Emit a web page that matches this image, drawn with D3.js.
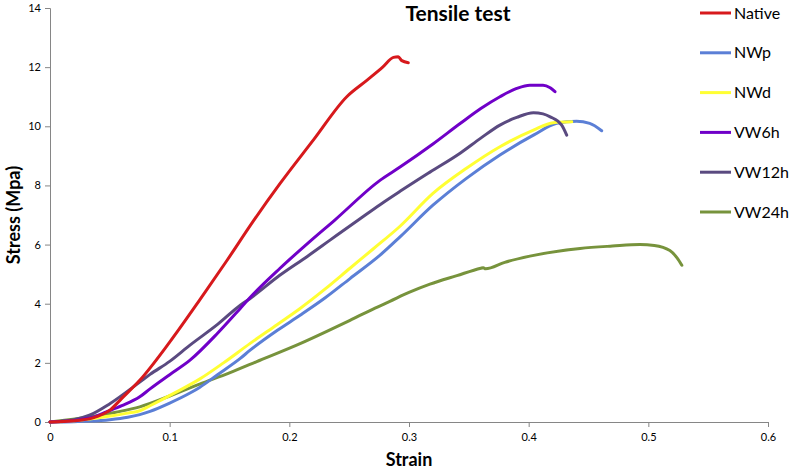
<!DOCTYPE html>
<html><head><meta charset="utf-8">
<script src="https://cdn.jsdelivr.net/npm/d3@7"></script>
<style>body{margin:0;background:#fff;}svg{display:block;font-family:Lato,"Open Sans",sans-serif;}</style>
</head><body>
<svg id="c" width="790" height="474"></svg>
<script>
const seriesNames = ["Native","NWp","NWd","VW6h","VW12h","VW24h"];
const seriesColors = ["#D7191C","#5B7FD6","#FFFF33","#7000C8","#5A4A80","#77933C"];
const xTicks = [0,0.1,0.2,0.3,0.4,0.5,0.6];
const yTicks = [0,2,4,6,8,10,12,14];

const nativeData = [[0,0],[0.02,0.04],[0.035,0.13],[0.05,0.4],[0.06,0.8],[0.075,1.41],[0.1,2.7],[0.125,4.12],[0.148,5.47],[0.17,6.8],[0.192,8.05],[0.22,9.53],[0.248,11.0],[0.265,11.56],[0.278,12.0],[0.287,12.33],[0.291,12.35],[0.294,12.22],[0.2994,12.15]];
const nwpData = [[0,0],[0.02,0.01],[0.033,0.03],[0.05,0.08],[0.065,0.16],[0.075,0.25],[0.0836,0.36],[0.1,0.64],[0.117,0.98],[0.125,1.17],[0.14,1.6],[0.159,2.15],[0.167,2.42],[0.19,3.1],[0.209,3.61],[0.23,4.2],[0.2507,4.85],[0.2758,5.64],[0.2925,6.26],[0.32,7.33],[0.348,8.24],[0.376,9.03],[0.404,9.7],[0.4234,10.1],[0.44,10.17],[0.451,10.1],[0.461,9.85]];
const nwdData = [[0,0],[0.02,0.04],[0.033,0.1],[0.05,0.2],[0.065,0.3],[0.075,0.38],[0.0836,0.55],[0.105,1.0],[0.125,1.45],[0.145,2.0],[0.167,2.65],[0.19,3.3],[0.209,3.84],[0.23,4.5],[0.2507,5.2],[0.27,5.85],[0.2925,6.62],[0.32,7.73],[0.348,8.58],[0.376,9.31],[0.404,9.87],[0.4206,10.12],[0.436,10.15]];
const vw6hData = [[0,0],[0.02,0.05],[0.035,0.15],[0.047,0.34],[0.06,0.55],[0.075,0.85],[0.0836,1.12],[0.1,1.6],[0.117,2.09],[0.14,3.0],[0.159,3.84],[0.167,4.2],[0.192,5.19],[0.217,6.1],[0.238,6.83],[0.276,8.18],[0.2925,8.62],[0.32,9.4],[0.343,10.1],[0.36,10.6],[0.376,11.0],[0.39,11.28],[0.401,11.39],[0.412,11.39],[0.418,11.3],[0.422,11.17]];
const vw12hData = [[0,0],[0.02,0.08],[0.033,0.23],[0.05,0.62],[0.075,1.35],[0.0836,1.61],[0.1,2.05],[0.117,2.6],[0.14,3.3],[0.159,3.95],[0.167,4.17],[0.192,4.96],[0.215,5.6],[0.234,6.15],[0.26,6.9],[0.2758,7.35],[0.2925,7.8],[0.3175,8.45],[0.343,9.1],[0.36,9.6],[0.376,10.04],[0.39,10.3],[0.404,10.46],[0.412,10.42],[0.418,10.32],[0.4276,10.04],[0.4318,9.7]];
const vw24hData = [[0,0],[0.033,0.17],[0.055,0.33],[0.075,0.51],[0.1,0.88],[0.125,1.28],[0.15,1.66],[0.175,2.08],[0.209,2.65],[0.23,3.04],[0.2507,3.44],[0.27,3.82],[0.284,4.08],[0.3,4.38],[0.3175,4.66],[0.34,4.95],[0.36,5.2],[0.362,5.22],[0.364,5.18],[0.38,5.4],[0.401,5.61],[0.443,5.87],[0.47,5.95],[0.493,6.0],[0.505,5.97],[0.518,5.8],[0.524,5.55],[0.528,5.3]];
const seriesData = [nativeData,nwpData,nwdData,vw6hData,vw12hData,vw24hData];

const svg = d3.select("#c");
const x = d3.scaleLinear().domain([0,0.6]).range([50,768]);
const y = d3.scaleLinear().domain([0,14]).range([422,8]);
const axisColor = "#868686";

const xa = svg.append("g").attr("transform","translate(0,422)")
  .call(d3.axisBottom(x).tickValues(xTicks).tickFormat(d=>d===0?"0":String(d)).tickSizeOuter(0).tickSize(5).tickPadding(6));
const ya = svg.append("g").attr("transform","translate(50,0)")
  .call(d3.axisLeft(y).tickValues(yTicks).tickSizeOuter(0).tickSize(5).tickPadding(4));
[xa,ya].forEach(a=>{
  a.selectAll("path,line").attr("stroke",axisColor);
  a.selectAll("text").attr("font-family","Lato, sans-serif").attr("font-size",11).attr("fill","#000");
});

const line = d3.line().x(d=>x(d[0])).y(d=>y(d[1])).curve(d3.curveMonotoneX);
const order = [5,1,2,4,3,0];
order.forEach(i=>{
  svg.append("path").datum(seriesData[i]).attr("d",line)
    .attr("fill","none").attr("stroke",seriesColors[i]).attr("stroke-width",3)
    .attr("stroke-linejoin","round").attr("stroke-linecap","round");
});

svg.append("text").attr("x",458).attr("y",21).attr("text-anchor","middle")
  .attr("font-size",21).attr("font-weight","bold").text("Tensile test");
svg.append("text").attr("x",409).attr("y",466).attr("text-anchor","middle")
  .attr("font-size",18).attr("font-weight","bold").text("Strain");
svg.append("text").attr("transform","translate(20,215) rotate(-90)").attr("text-anchor","middle")
  .attr("font-size",18).attr("font-weight","bold").text("Stress (Mpa)");

const legY = d3.scalePoint().domain(seriesNames).range([13,212]);
seriesNames.forEach((n,i)=>{
  const g = svg.append("g").attr("transform",`translate(0,${legY(n)})`);
  g.append("line").attr("x1",700).attr("x2",731).attr("y1",0).attr("y2",0)
    .attr("stroke",seriesColors[i]).attr("stroke-width",3);
  g.append("text").attr("x",734).attr("y",5.5).attr("font-size",16).text(n);
});
</script>
</body></html>
